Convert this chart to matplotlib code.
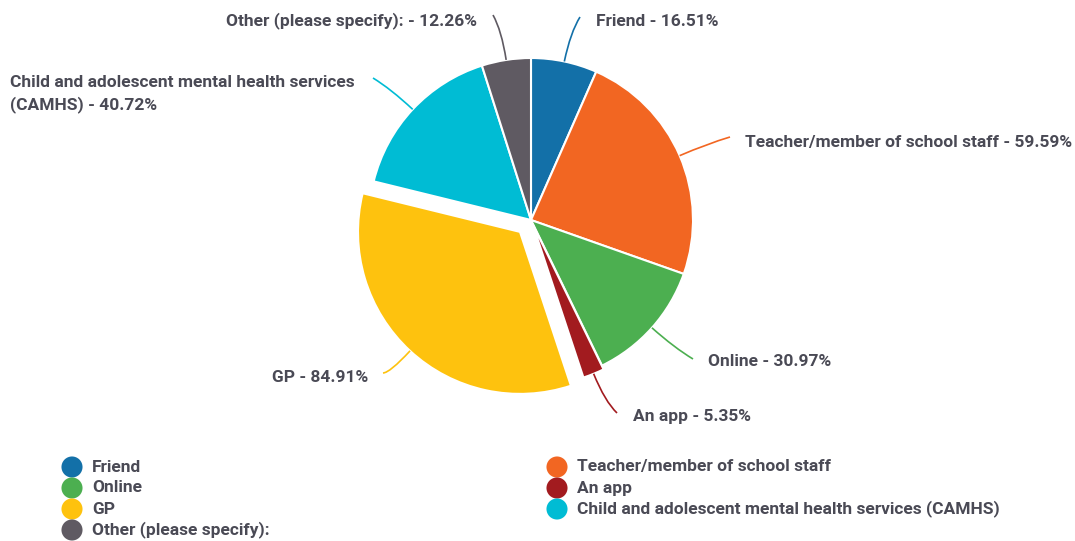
import numpy as np
import matplotlib
matplotlib.use("Agg")
import matplotlib.pyplot as plt
from matplotlib.path import Path
from matplotlib.patches import PathPatch

plt.rcParams['font.family'] = ['Roboto', 'DejaVu Sans']

# Data
categories = [
    'Friend',
    'Teacher/member of school staff',
    'Online',
    'An app',
    'GP',
    'Child and adolescent mental health services (CAMHS)',
    'Other (please specify):',
]
values = [16.51, 59.59, 30.97, 5.35, 84.91, 40.72, 12.26]
colors = ['#1370a8', '#f26622', '#4caf50', '#a21b1f', '#fec20e', '#00bcd4', '#5f5a62']
explode = [0, 0, 0, 0.025, 0.1, 0, 0]

# slice label text (CAMHS wraps onto two lines)
label_texts = [
    'Friend - 16.51%',
    'Teacher/member of school staff - 59.59%',
    'Online - 30.97%',
    'An app - 5.35%',
    'GP - 84.91%',
    'Child and adolescent mental health services\n(CAMHS) - 40.72%',
    'Other (please specify): - 12.26%',
]

W, H = 1075, 541
TEXT = '#4a4a55'
FS = 12.5

# layout (pixels, y measured from the top)
cx, cy, R = 531, 220, 162
# (text x, text y, ha, connector end x, connector end y)
label_pos = [
    (596, 21, 'left', 580, 17),
    (745, 142, 'left', 730, 137),
    (708, 362, 'left', 693, 359),
    (633, 416, 'left', 617, 413),
    (368, 377, 'right', 383, 373),
    (10, 94, 'left', 373, 78),
    (477, 21, 'right', 493, 15),
]

fig = plt.figure(figsize=(W / 100, H / 100), dpi=100)
ax = fig.add_axes([0, 0, 1, 1])

# pie explode is in data units, so scale the fractions by the radius
wedges, _ = ax.pie(values, colors=colors, explode=[e * R for e in explode],
                   center=(cx, H - cy), radius=R,
                   startangle=90, counterclock=False,
                   wedgeprops=dict(edgecolor='white', linewidth=1.5))
ax.set_xlim(0, W)
ax.set_ylim(0, H)
ax.set_aspect('equal')
ax.axis('off')

total = sum(values)
start = 0.0
for i, v in enumerate(values):
    mid = np.deg2rad((start + v / 2) / total * 360)
    start += v
    dx, dy = np.sin(mid), np.cos(mid)
    ox = cx + explode[i] * R * dx
    oy = (H - cy) + explode[i] * R * dy
    p0 = (ox + R * dx, oy + R * dy)
    p1 = (ox + (R + 30) * dx, oy + (R + 30) * dy)
    tx, ty, ha, ex, ey = label_pos[i]
    p2 = (ex, H - ey)
    path = Path([p0, p1, p2], [Path.MOVETO, Path.CURVE3, Path.CURVE3])
    ax.add_patch(PathPatch(path, facecolor='none', edgecolor=colors[i], lw=1.2))
    ax.text(tx, H - ty, label_texts[i], ha=ha, va='center', fontsize=FS,
            fontweight='bold', color=TEXT, linespacing=1.4)

# legend, row-major in two columns
col_x = [72, 557]
row_y0, row_dy = 467, 21
for i, (name, c) in enumerate(zip(categories, colors)):
    col = 0 if i in (0, 2, 4, 6) else 1
    row = i // 2
    x = col_x[col]
    y = H - (row_y0 + row * row_dy)
    ax.scatter([x], [y], s=230, color=c, edgecolors='none')
    ax.text(x + 20, y, name, ha='left', va='center', fontsize=FS,
            fontweight='bold', color=TEXT)

fig.savefig('out.png', dpi=100, facecolor='white')
